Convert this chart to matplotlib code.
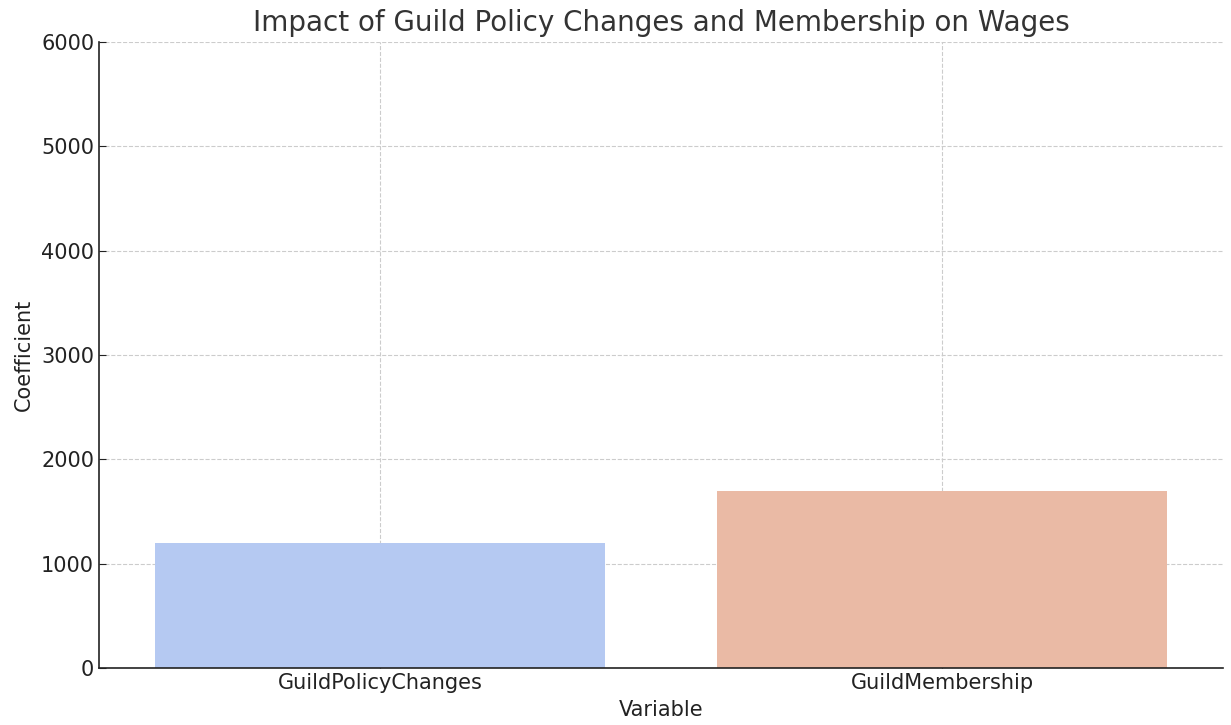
import matplotlib
matplotlib.use("Agg")
import matplotlib.pyplot as plt

# coefficients
variables = ["GuildPolicyChanges", "GuildMembership"]
coefficients = [1200, 1700]
bar_colors = ["#b5c9f2", "#eabaa5"]

TEXT = "#333333"

fig = plt.figure(figsize=(12.31, 7.25), dpi=100)
ax = fig.add_axes([99 / 1231, 1 - 668 / 725, (1223 - 99) / 1231, (668 - 42) / 725])

ax.bar(range(len(variables)), coefficients, width=0.8, color=bar_colors, zorder=2)

ax.set_xlim(-0.5, len(variables) - 0.5)
ax.set_ylim(0, 6000)
ax.set_xticks(range(len(variables)))
ax.set_xticklabels(variables)
ax.set_yticks(range(0, 6001, 1000))

ax.grid(True, linestyle="--", color="#cccccc", linewidth=0.8, zorder=0)
ax.set_axisbelow(True)
for side in ("top", "right"):
    ax.spines[side].set_visible(False)
for side in ("left", "bottom"):
    ax.spines[side].set_color("#222222")
    ax.spines[side].set_linewidth(1.2)

ax.tick_params(direction="in", labelsize=15, colors="#222222", length=5)
ax.set_xlabel("Variable", fontsize=15, color="#222222", labelpad=5)
ax.set_ylabel("Coefficient", fontsize=15, color="#222222", labelpad=5)
ax.set_title("Impact of Guild Policy Changes and Membership on Wages",
             fontsize=20, color=TEXT, pad=8)

fig.savefig("out.png", dpi=100)
